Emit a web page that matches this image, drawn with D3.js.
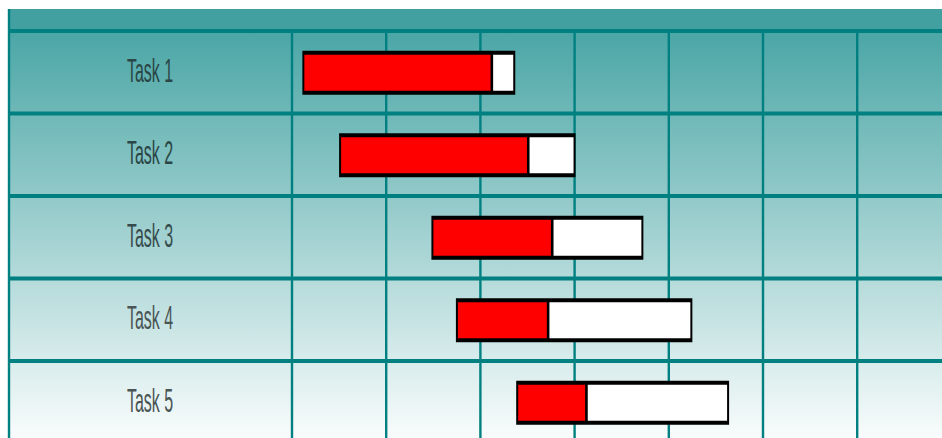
<!DOCTYPE html>
<html><head><meta charset="utf-8">
<script src="https://cdn.jsdelivr.net/npm/d3@7"></script>
<style>html,body{margin:0;padding:0;background:#fff;overflow:hidden}</style>
</head><body><svg id="c" width="942" height="438"></svg>
<script>
const tasks = ["Task 1","Task 2","Task 3","Task 4","Task 5"];
const taskStart = [0.11, 0.50, 1.48, 1.74, 2.38];   // in grid-column units
const taskEnd   = [2.37, 3.01, 3.73, 4.25, 4.64];
const taskDone  = [0.89, 0.80, 0.57, 0.39, 0.33];   // fraction complete
const gridTicks = [0,1,2,3,4,5,6];

(function(){
const svg = d3.select("#c");
const W = 942, H = 438;
const padLeft = 8, padTop = 9, headerBottom = 31, labelRight = 292;
const colW = 94.2;
const x = d3.scaleLinear().domain([0, (W - labelRight)/colW]).range([labelRight, W]);
const y = d3.scaleBand().domain(tasks).range([headerBottom, headerBottom + 82.5*tasks.length]);

const defs = svg.append("defs");
const g = defs.append("linearGradient").attr("id","bg")
  .attr("gradientUnits","userSpaceOnUse").attr("x1",0).attr("x2",0).attr("y1",headerBottom).attr("y2",H);
g.append("stop").attr("offset",0).attr("stop-color","#4ba6a6");
g.append("stop").attr("offset",1).attr("stop-color","#f9fcfc");

svg.append("rect").attr("x",padLeft).attr("y",headerBottom).attr("width",W-padLeft).attr("height",H-headerBottom).attr("fill","url(#bg)");
svg.append("rect").attr("x",padLeft).attr("y",padTop).attr("width",W-padLeft).attr("height",headerBottom-padTop).attr("fill","#42a0a0");

const teal = "#008080";
svg.selectAll("line.v").data(gridTicks).join("line").attr("class","v")
  .attr("x1",d=>x(d)).attr("x2",d=>x(d)).attr("y1",headerBottom).attr("y2",H)
  .attr("stroke",teal).attr("stroke-width",2.4);
svg.append("line").attr("x1",padLeft+1).attr("x2",padLeft+1).attr("y1",padTop).attr("y2",H).attr("stroke",teal).attr("stroke-width",2.4);
const hl = tasks.map(t=>y(t));
svg.selectAll("line.h").data(hl).join("line").attr("class","h")
  .attr("x1",padLeft).attr("x2",W).attr("y1",d=>d).attr("y2",d=>d)
  .attr("stroke",teal).attr("stroke-width",4);

svg.selectAll("text.lab").data(tasks).join("text").attr("class","lab")
  .attr("transform",d=>`translate(${(padLeft+labelRight)/2},${y(d)+y.bandwidth()/2-2.5}) scale(1,2.05)`)
  .attr("text-anchor","middle").attr("dy","0.36em")
  .attr("font-family","Liberation Sans, Arial, sans-serif").attr("font-size",16)
  .attr("fill",(d,i)=> i<2 ? "#2a4646" : (i<3 ? "#364c4c" : "#4a5555"))
  .text(d=>d);

const barH = 44;
const bars = svg.selectAll("g.bar").data(tasks).join("g").attr("class","bar");
bars.each(function(t,i){
  const G = d3.select(this);
  const x0 = x(taskStart[i]), x1 = x(taskEnd[i]);
  const xs = x0 + (x1-x0)*taskDone[i];
  const y0 = y(t) + y.bandwidth()/2 - barH/2 + 0.5;
  const bv = 2, bh = 4;
  G.append("rect").attr("x",x0).attr("y",y0).attr("width",x1-x0).attr("height",barH).attr("fill","#000");
  G.append("rect").attr("x",x0+bv).attr("y",y0+bh).attr("width",xs-1.3-(x0+bv)).attr("height",barH-2*bh).attr("fill","#ff0000");
  G.append("rect").attr("x",xs+1.3).attr("y",y0+bh).attr("width",x1-bv-(xs+1.3)).attr("height",barH-2*bh).attr("fill","#ffffff");
});
})();
</script></body></html>
